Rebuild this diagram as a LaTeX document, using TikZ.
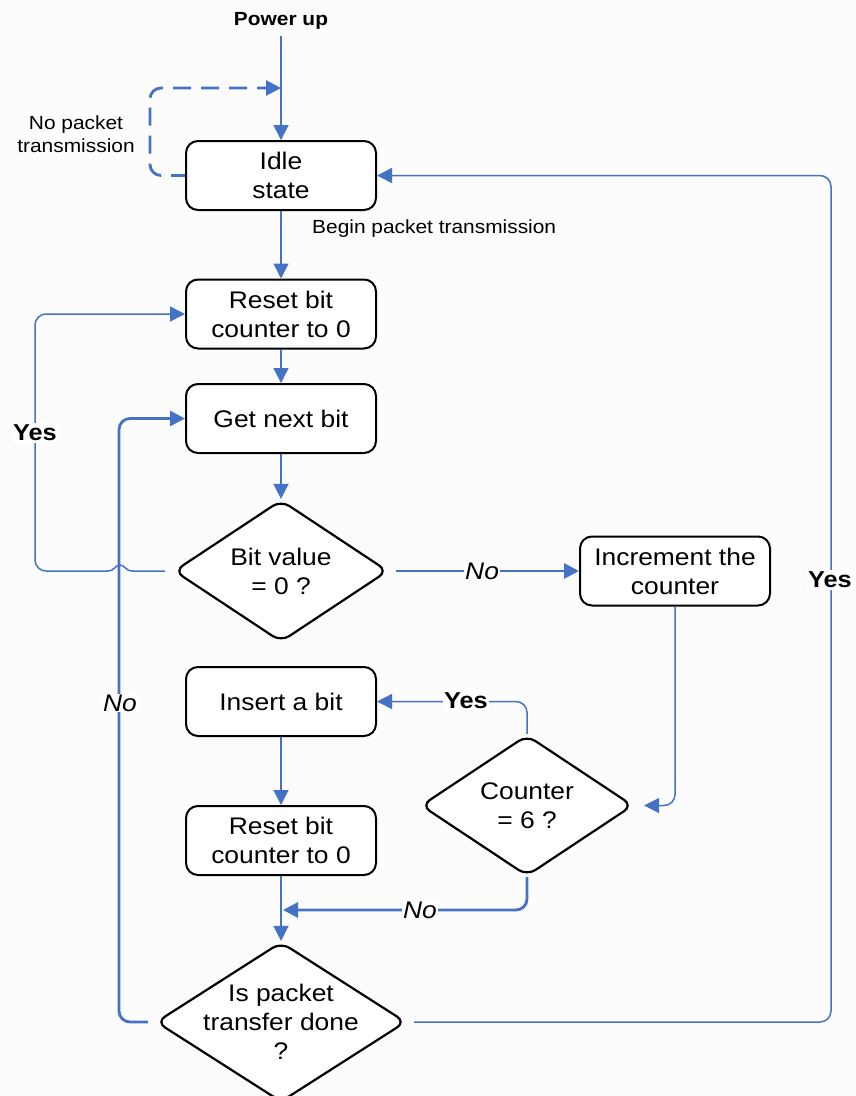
\documentclass[tikz,border=0pt]{standalone}
\usepackage{fontspec}
\setmainfont{Liberation Sans}[FakeStretch=1.1]
\usetikzlibrary{shapes.geometric,arrows.meta}
\definecolor{flowblue}{RGB}{68,114,196}
\definecolor{paper}{RGB}{252,252,252}

\begin{document}
\begin{tikzpicture}[x=1pt,y=-1pt,
  box/.style={draw=black, line width=2pt, rounded corners=12pt, fill=white,
    minimum width=190pt, minimum height=69pt, inner sep=0pt, align=center,
    font=\fontsize{24}{29}\selectfont},
  decision/.style={diamond, draw=black, line width=2.2pt, rounded corners=10pt,
    fill=white, inner sep=0pt},
  dtext/.style={align=center, font=\fontsize{24}{29}\selectfont, inner sep=0pt},
  flow/.style={draw=flowblue, line width=1.5pt, rounded corners=11pt},
  thickflow/.style={flow, line width=2.8pt},
  arr/.style={-{Triangle[length=15pt,width=15pt]}},
  note/.style={font=\fontsize{19}{23}\selectfont, align=center, inner sep=0pt},
  yeslbl/.style={font=\bfseries\fontsize{23}{27}\selectfont, fill=white, inner sep=1.5pt},
  nolbl/.style={font=\itshape\fontsize{24}{28}\selectfont, fill=white, inner sep=1pt},
]
\useasboundingbox (0,0) rectangle (856,1096);
\fill[paper] (0,0) rectangle (856,1096);

% process boxes
\node[box] (idle)   at (281,175.5) {Idle\\state};
\node[box] (reset1) at (281,314)   {Reset bit\\counter to 0};
\node[box] (getbit) at (281,418.5) {Get next bit};
\node[box] (incr)   at (675,571)   {Increment the\\counter};
\node[box] (insert) at (281,701.5) {Insert a bit};
\node[box] (reset2) at (281,840.5) {Reset bit\\counter to 0};

% decisions
\node[decision, minimum width=214pt, minimum height=142pt] (bitval) at (281,571) {};
\node[dtext] (bitvalT) at (bitval.center) {Bit value\\= 0 ?};
\node[decision, minimum width=212pt, minimum height=141pt] (cnt) at (527,805.5) {};
\node[dtext] (cntT) at (cnt.center) {Counter\\= 6 ?};
\node[decision, minimum width=250pt, minimum height=160pt] (done) at (281,1022) {};
\node[dtext] (doneT) at (done.center) {Is packet\\transfer done\\?};

% free labels
\node[font=\bfseries\fontsize{19}{23}\selectfont] (power) at (281,21) {Power up};
\node[note] (nopkt) at (76,134) {No packet\\transmission};
\node[note, anchor=west] (begin) at (312,229) {Begin packet transmission};

% loose ends
\coordinate (pwrTop) at (281,36);
\coordinate (dashTip) at (281,88);
\coordinate (merge) at (283,910);

% power-up entry and idle wait loop
\draw[flow, arr] (pwrTop) -- (idle.north);
\draw[thickflow, arr, dash pattern=on 18pt off 10pt, dash phase=4pt]
  (idle.west) -| (150,88) -- (dashTip);

% main column
\draw[flow, arr] (idle.south) -- (reset1.north);
\draw[flow, arr] (reset1.south) -- (getbit.north);
\draw[flow, arr] (getbit.south) -- (bitval.north);
\draw[flow, arr] (insert.south) -- (reset2.north);
\draw[flow, arr] (reset2.south) -- (done.north);

% bit = 0: back to reset (hops over the return line)
\draw[flow, sharp corners, arr] ([xshift=-8pt]bitval.west) -- (133,571)
  .. controls (125,571) and (125,565) .. (120,565)
  .. controls (115,565) and (115,571) .. (107,571)
  [rounded corners=11pt] -- (35,571) -- (35,314) -- (reset1.west);

% bit = 1: increment
\draw[thickflow, arr] ([xshift=7pt]bitval.east) -- (incr.west)
  node[nolbl, pos=0.47] (no1) {No};

% increment -> counter test
\draw[flow, arr] (incr.south) |- ([xshift=10pt]cnt.east);

% counter = 6: insert a bit
\draw[flow, arr] (cnt.north) |- (insert.east);
\node[yeslbl] (yes2) at (466,701) {Yes};

% counter < 6: go to done test
\draw[thickflow, arr] (cnt.south) |- (merge);
\node[nolbl] (no2) at (420,910) {No};

% not done: next bit
\draw[thickflow, arr] ([xshift=-7pt]done.west) -| ([xshift=-66pt]getbit.west) -- (getbit.west);
\node[nolbl] (no3) at (120,703) {No};

% done: back to idle
\draw[flow, arr] ([xshift=7pt]done.east) -| ([xshift=454pt]idle.east) -- (idle.east);
\node[yeslbl] (yes3) at (830,580) {Yes};

\node[yeslbl] (yes1) at (35,433) {Yes};
\end{tikzpicture}
\end{document}
